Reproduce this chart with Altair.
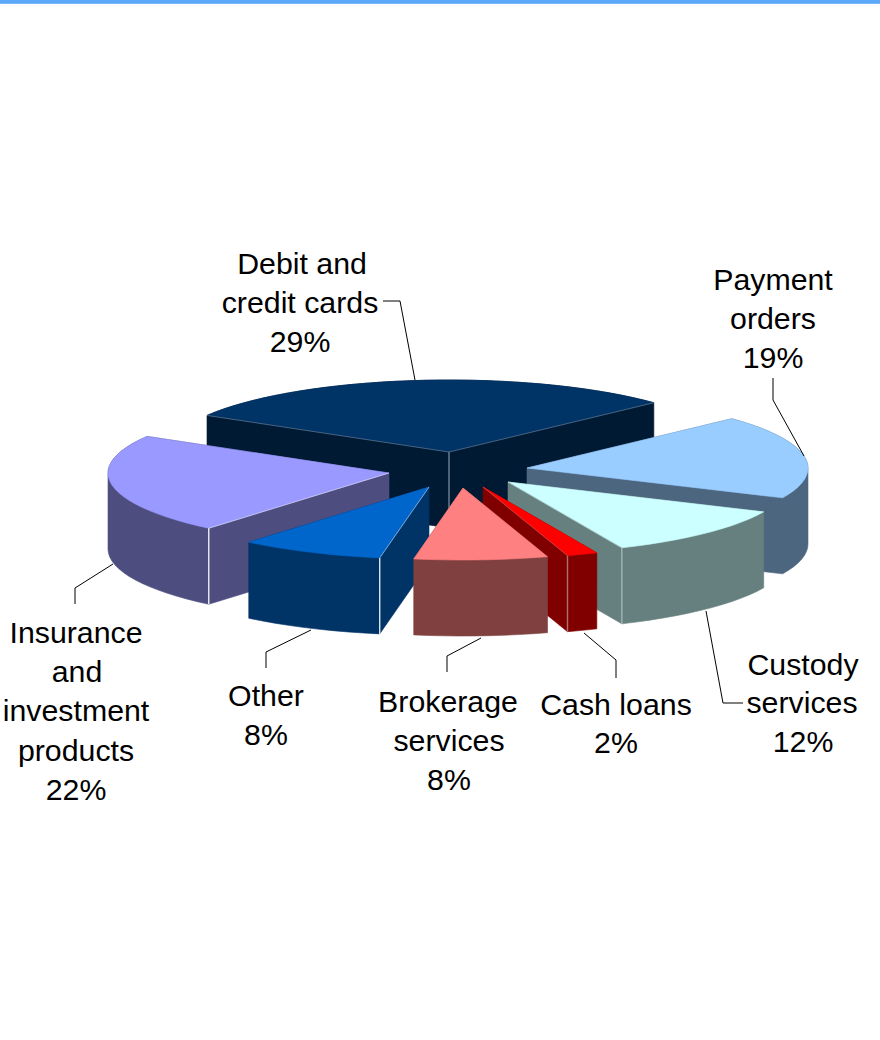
import math
import altair as alt

# Share of each product line, clockwise from the back of the pie
categories = ["Debit and credit cards", "Payment orders", "Custody services", "Cash loans",
              "Brokerage services", "Other", "Insurance and investment products"]
shares = [29, 19, 12, 2, 8, 8, 22]
top_colors = ["#003366", "#99CCFF", "#CCFFFF", "#FF0000", "#FF8080", "#0066CC", "#9999FF"]
wall_colors = ["#001A33", "#4D6680", "#668080", "#800000", "#804040", "#003366", "#4D4D80"]
corner_colors = ["#6F8296", None, "#A3B5B5", "#B07070", None, "#DDE3EA", "#EDEDF5"]

# Exploded slice tips, in drawing pixels
tips = [(449, 452), (527, 468), (508, 482), (483, 487), (463, 488), (429, 487), (389, 473)]
# Which rim end carries the bright vertical edge: 0 = tip, 1 = first rim end, 2 = last rim end
corner_ends = [0, None, 2, 2, None, 1, 1]
# Back-to-front painting order
paint_order = [0, 6, 1, 2, 3, 5, 4]
# Perspective shift of each slice boundary along the rim, in degrees
rim_shift = [-0.45, 1.4, 0.7, -0.9, -1.7, -2.9, -1.9, -0.45]

RX, RY, DEPTH, START = 281, 72, 76, 211


def hull(points):
    pts = sorted(set(points))

    def half(seq):
        out = []
        for p in seq:
            while len(out) > 1 and ((out[-1][0] - out[-2][0]) * (p[1] - out[-2][1])
                                    - (out[-1][1] - out[-2][1]) * (p[0] - out[-2][0])) <= 0:
                out.pop()
            out.append(p)
        return out[:-1]

    return half(pts) + half(pts[::-1])


def polygon(points, fill):
    ring = [list(p) for p in points] + [list(points[0])]
    return {"type": "Feature", "geometry": {"type": "Polygon", "coordinates": [ring]},
            "properties": {"fill": fill, "stroke": fill, "sw": 0.6, "so": 1}}


def line(points, color, width=1.0, opacity=1.0):
    return {"type": "Feature",
            "geometry": {"type": "LineString", "coordinates": [list(p) for p in points]},
            "properties": {"fill": "transparent", "stroke": color, "sw": width, "so": opacity}}


# Angular span of every slice on the projected rim
spans = []
angle = START
for i, share in enumerate(shares):
    spans.append((angle + rim_shift[i], angle + share * 3.6 + rim_shift[i + 1]))
    angle += share * 3.6

features = []
for i in paint_order:
    cx, cy = tips[i]
    a0, a1 = spans[i]
    steps = max(3, int((a1 - a0) / 3))
    arc = []
    for k in range(steps + 1):
        t = math.radians(a0 + (a1 - a0) * k / steps)
        arc.append((round(cx + RX * math.cos(t), 2), round(cy + RY * math.sin(t), 2)))
    top = [(cx, cy)] + arc
    below = [(x, y + DEPTH) for x, y in top]
    features.append(polygon(hull(top + below), wall_colors[i]))
    features.append(polygon(top, top_colors[i]))
    if corner_ends[i] is not None:
        cor = {0: top[0], 1: arc[0], 2: arc[-1]}[corner_ends[i]]
        features.append(line([cor, (cor[0], cor[1] + DEPTH)], corner_colors[i], 1.4))
        if corner_ends[i] == 0:
            features.append(line([arc[0], cor, arc[-1]], "#6F8296", 0.8, 0.8))
        else:
            features.append(line([cor, (cx, cy)], corner_colors[i], 0.8, 0.7))

# Thin accent bar along the top of the page
features.insert(0, polygon([(0, 0), (880, 0), (880, 3.5), (0, 3.5)], "#5AA8FA"))

slices = alt.Chart(alt.Data(values=features)).mark_geoshape().encode(
    fill=alt.Fill("properties.fill:N", scale=None),
    stroke=alt.Stroke("properties.stroke:N", scale=None),
    strokeWidth=alt.StrokeWidth("properties.sw:Q", scale=None),
    strokeOpacity=alt.StrokeOpacity("properties.so:Q", scale=None),
).project(type="identity", scale=1, translate=[0, 0])

# Leader lines from the labels to their slices
leader_paths = [
    [(383, 301), (400, 301), (415, 380)],
    [(773, 378), (773, 400), (804, 456)],
    [(706, 611), (723, 703), (743, 703)],
    [(584, 633), (616, 660), (616, 678)],
    [(481, 638), (447, 656), (447, 672)],
    [(311, 630), (266, 652), (266, 668)],
    [(113, 564), (75, 588), (75, 604)],
]
leaders = alt.Chart(alt.Data(values=[line(p, "#000000", 1.0) for p in leader_paths])).mark_geoshape(
    filled=False, stroke="#000000", strokeWidth=1
).project(type="identity", scale=1, translate=[0, 0])

# Label text, one row per line
label_rows = [
    ("Debit and", 302, 265), ("credit cards", 300, 304), ("29%", 300, 343),
    ("Payment", 773, 281), ("orders", 773, 320), ("19%", 773, 359),
    ("Custody", 803, 666), ("services", 802, 704), ("12%", 803, 743),
    ("Cash loans", 616, 706), ("2%", 616, 744),
    ("Brokerage", 448, 703), ("services", 449, 742), ("8%", 449, 781),
    ("Other", 266, 697), ("8%", 266, 736),
    ("Insurance", 76, 634), ("and", 77, 673), ("investment", 76, 712),
    ("products", 76, 752), ("22%", 76, 791),
]
labels = alt.Chart(alt.Data(values=[{"t": t, "x": x, "y": y} for t, x, y in label_rows])).mark_text(
    font="Liberation Sans", fontSize=30.3, color="#000000", align="center", baseline="middle"
).encode(
    x=alt.X("x:Q", scale=None, axis=None),
    y=alt.Y("y:Q", scale=None, axis=None),
    text="t:N",
)

chart = alt.layer(slices, leaders, labels).properties(
    width=880, height=1040, padding=0, autosize=alt.AutoSizeParams(type="none"),
    background="#FFFFFF",
).configure_view(stroke=None)

chart.save("out.html", embed_options={"renderer": "svg", "actions": False})
